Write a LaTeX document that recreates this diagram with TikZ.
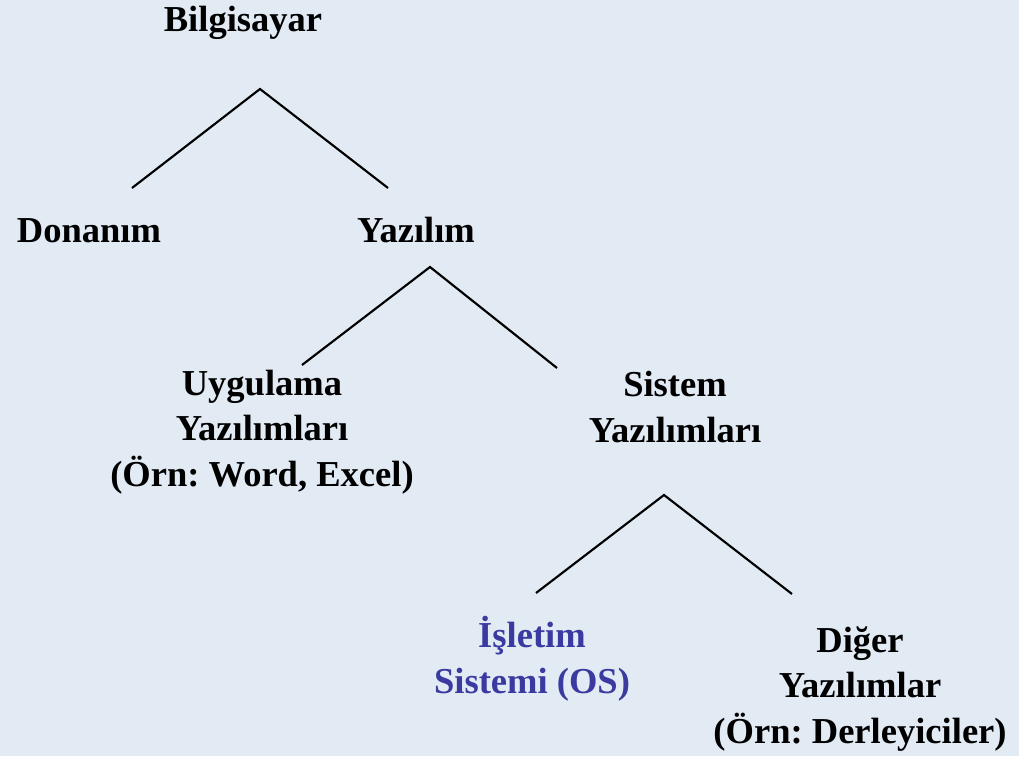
\documentclass[tikz,border=0pt]{standalone}
\usepackage{fontspec}
\setmainfont{Liberation Serif}
\definecolor{bgblue}{RGB}{226,234,244}
\definecolor{osblue}{RGB}{58,58,160}
\begin{document}
\frenchspacing
\begin{tikzpicture}[x=0.75pt,y=-0.75pt,
  lbl/.style={anchor=base,inner sep=0pt,align=center,
    font=\fontsize{27.4}{33.9}\selectfont\bfseries\frenchspacing},
  conn/.style={line width=1.6pt,black}]
\fill[bgblue] (0,0) rectangle (1019,756);
\useasboundingbox (0,0) rectangle (1019,756);
% base anchor of a multi-line node = baseline of its last line
\node[lbl] (bil) at (243,32) {Bilgisayar};
\node[lbl] (don) at (89,242) {Donanım};
\node[lbl] (yaz) at (416,242) {Yazılım};
\node[lbl] (uyg) at (262,486) {Uygulama\\Yazılımları\\(Örn: Word, Excel)};
\node[lbl] (sis) at (675,442) {Sistem\\Yazılımları};
\node[lbl,text=osblue] (isl) at (532,693) {İşletim\\Sistemi (OS)};
\node[lbl] (dig) at (860,743) {Diğer\\Yazılımlar\\(Örn: Derleyiciler)};
\coordinate (a1) at (260,89);
\coordinate (a1l) at (132,188);
\coordinate (a1r) at (388,188);
\coordinate (a2) at (430,267);
\coordinate (a2l) at (302,365);
\coordinate (a2r) at (557,368);
\coordinate (a3) at (664,495);
\coordinate (a3l) at (536,593);
\coordinate (a3r) at (792,594);
\draw[conn] (a1l) -- (a1) -- (a1r);
\draw[conn] (a2l) -- (a2) -- (a2r);
\draw[conn] (a3l) -- (a3) -- (a3r);
\end{tikzpicture}
\end{document}
